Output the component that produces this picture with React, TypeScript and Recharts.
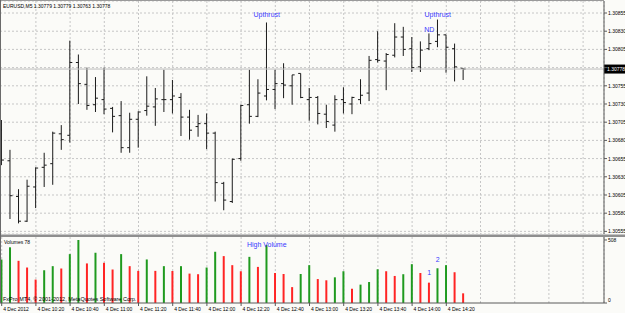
import {
  ComposedChart,
  Bar,
  Scatter,
  XAxis,
  YAxis,
  CartesianGrid,
  ReferenceLine,
  Cell,
} from "recharts"

// EURUSD M5, 4 Dec 2012
const times = [
  "10:00", "10:05", "10:10", "10:15", "10:20", "10:25", "10:30", "10:35", "10:40", "10:45",
  "10:50", "10:55", "11:00", "11:05", "11:10", "11:15", "11:20", "11:25", "11:30", "11:35",
  "11:40", "11:45", "11:50", "11:55", "12:00", "12:05", "12:10", "12:15", "12:20", "12:25",
  "12:30", "12:35", "12:40", "12:45", "12:50", "12:55", "13:00", "13:05", "13:10", "13:15",
  "13:20", "13:25", "13:30", "13:35", "13:40", "13:45", "13:50", "13:55", "14:00", "14:05",
  "14:10", "14:15", "14:20", "14:25", "14:30",
]

const opens = [
  1.30694, 1.30652, 1.30603, 1.30569, 1.30616, 1.30643, 1.30648, 1.30689, 1.30687, 1.30787,
  1.30757, 1.30729, 1.30736, 1.30724, 1.30714, 1.3067, 1.30709, 1.30721, 1.30726, 1.30736,
  1.30736, 1.30739, 1.30712, 1.30699, 1.30703, 1.3069, 1.30621, 1.30596, 1.30655, 1.30729,
  1.30713, 1.30741, 1.3075, 1.30758, 1.30755, 1.30772, 1.30736, 1.30739, 1.30716, 1.30701,
  1.30736, 1.3073, 1.30736, 1.30745, 1.30791, 1.30789, 1.30797, 1.30822, 1.30806, 1.30781,
  1.30806, 1.30816, 1.30825, 1.30806, 1.30779,
]
const highs = [
  1.30708, 1.30667, 1.30613, 1.30626, 1.30643, 1.30663, 1.30692, 1.30701, 1.30817, 1.30798,
  1.3078, 1.30767, 1.3078, 1.30726, 1.30734, 1.30718, 1.3072, 1.30768, 1.30752, 1.30777,
  1.30763, 1.30745, 1.30722, 1.30715, 1.30717, 1.30692, 1.30623, 1.30655, 1.30729, 1.30777,
  1.30764, 1.30842, 1.30777, 1.30786, 1.3077, 1.30772, 1.30752, 1.30741, 1.30729, 1.30742,
  1.30753, 1.3074, 1.30764, 1.30796, 1.3083, 1.308, 1.30841, 1.30836, 1.30822, 1.30816,
  1.30827, 1.30846, 1.30825, 1.30813, 1.30779,
]
const lows = [
  1.30646, 1.30572, 1.30566, 1.30568, 1.30587, 1.30616, 1.30619, 1.30667, 1.30677, 1.3073,
  1.30722, 1.30719, 1.30716, 1.30691, 1.30663, 1.30663, 1.3067, 1.30714, 1.307, 1.30719,
  1.30717, 1.30686, 1.30681, 1.30685, 1.30668, 1.30596, 1.30584, 1.30594, 1.30652, 1.30703,
  1.30712, 1.30735, 1.30723, 1.30738, 1.30729, 1.30738, 1.30707, 1.30702, 1.30697, 1.30692,
  1.30717, 1.30716, 1.3073, 1.30734, 1.30787, 1.30749, 1.30794, 1.30796, 1.30774, 1.30774,
  1.30804, 1.30808, 1.30773, 1.30761, 1.30763,
]
const closes = [
  1.30653, 1.30604, 1.30569, 1.30617, 1.30642, 1.30646, 1.3069, 1.30681, 1.30787, 1.30758,
  1.30728, 1.30738, 1.30723, 1.30713, 1.3067, 1.30709, 1.30719, 1.30727, 1.30737, 1.30736,
  1.30741, 1.30712, 1.30694, 1.30703, 1.3069, 1.30622, 1.30598, 1.30654, 1.30728, 1.30713,
  1.30745, 1.3075, 1.30758, 1.30756, 1.3077, 1.30739, 1.30739, 1.30717, 1.30706, 1.30736,
  1.30732, 1.30739, 1.30742, 1.3079, 1.3079, 1.30798, 1.30822, 1.30805, 1.3078, 1.30804,
  1.30813, 1.30825, 1.30808, 1.30781, 1.30778,
]
const volumes = [
  351, 449, 340, 286, 189, 264, 297, 278, 394, 508,
  319, 405, 324, 270, 394, 297, 259, 351, 259, 297,
  258, 297, 237, 232, 286, 413, 378, 305, 256, 372,
  291, 467, 242, 234, 128, 234, 305, 193, 183, 207,
  256, 115, 148, 169, 272, 256, 218, 232, 313, 242,
  164, 280, 305, 248, 78,
]

const priceTicks = [
  1.30555, 1.3058, 1.30605, 1.3063, 1.30655, 1.3068, 1.30705,
  1.3073, 1.30755, 1.3078, 1.30805, 1.3083, 1.30855,
]
const lastPrice = 1.30778
const volumeTicks = [0, 508]
const timeTickIdx = [0, 4, 8, 12, 16, 20, 24, 28, 32, 36, 40, 44, 48, 52]
const timeLabels = [
  "4 Dec 2012", "4 Dec 10:20", "4 Dec 10:40", "4 Dec 11:00", "4 Dec 11:20",
  "4 Dec 11:40", "4 Dec 12:00", "4 Dec 12:20", "4 Dec 12:40", "4 Dec 13:00",
  "4 Dec 13:20", "4 Dec 13:40", "4 Dec 14:00", "4 Dec 14:20",
]
// grid keeps going into the empty chart-shift area
const gridIdx = [4, 8, 12, 16, 20, 24, 28, 32, 36, 40, 44, 48, 52, 56, 60, 64, 68]

const priceNotes = [
  { i: 31, price: 1.30853, text: "Upthrust" },
  { i: 51, price: 1.30853, text: "Upthrust" },
  { i: 50, price: 1.30833, text: "ND" },
]
const volumeNotes = [
  { i: 31, vol: 471, text: "High Volume" },
  { i: 50, vol: 246, text: "1" },
  { i: 51, vol: 351, text: "2" },
]

const bars = times.map((t, i) => ({
  i,
  time: t,
  open: opens[i],
  high: highs[i],
  low: lows[i],
  close: closes[i],
  vol: volumes[i],
}))

const xDomain = [-0.199, 70.444]
const FONT = "Liberation Sans, Arial, sans-serif"
const NOTE_BLUE = "#3a3aff"
const AXIS = "#5a5a5a"

function OhlcShape(props: any) {
  const { x, y, width, height, payload } = props
  if (x == null || !payload) return null
  const top = height < 0 ? y + height : y
  const h = Math.abs(height)
  const span = payload.high - payload.low || 1
  const cx = x + width / 2
  const yOpen = top + ((payload.high - payload.open) / span) * h
  const yClose = top + ((payload.high - payload.close) / span) * h
  return (
    <g stroke="#1a1a1a" strokeWidth={1}>
      <line x1={cx} x2={cx} y1={top} y2={top + h} />
      <line x1={cx - 2.5} x2={cx} y1={yOpen} y2={yOpen} />
      <line x1={cx} x2={cx + 2.5} y1={yClose} y2={yClose} />
    </g>
  )
}

function NoteShape(props: any) {
  const { cx, cy, payload } = props
  return (
    <text
      x={cx}
      y={cy}
      textAnchor="middle"
      dominantBaseline="central"
      fontSize={7}
      fontFamily={FONT}
      fill={NOTE_BLUE}
    >
      {payload.text}
    </text>
  )
}

function PriceTag(props: any) {
  const vb = props.viewBox || {}
  const right = (vb.x || 0) + (vb.width || 0)
  const y = vb.y || 0
  return (
    <g>
      <rect x={right} y={y - 4.5} width={21} height={9} fill="#000" />
      <text
        x={right + 3}
        y={y}
        dominantBaseline="central"
        fontSize={5}
        fontFamily={FONT}
        fill="#fff"
      >
        {lastPrice.toFixed(5)}
      </text>
    </g>
  )
}

function PriceTick(props: any) {
  const { x, y, payload } = props
  const v = payload.value
  if (Math.abs(v - 1.3078) < 1e-7) return null
  return (
    <text x={x} y={y} dominantBaseline="central" fontSize={5} fontFamily={FONT} fill="#000">
      {v.toFixed(5)}
    </text>
  )
}

function VolTick(props: any) {
  const { x, y, payload } = props
  return (
    <text
      x={x}
      y={payload.value === 0 ? y - 3 : y}
      dominantBaseline="central"
      fontSize={5}
      fontFamily={FONT}
      fill="#000"
    >
      {payload.value}
    </text>
  )
}

function TimeTick(props: any) {
  const { x, y, payload } = props
  const k = timeTickIdx.indexOf(payload.value)
  if (k < 0) return null
  return (
    <g>
      <line x1={x} x2={x} y1={y} y2={y + 3} stroke={AXIS} />
      <text x={x + 1.5} y={y + 7.5} fontSize={5} fontFamily={FONT} fill="#000">
        {timeLabels[k]}
      </text>
    </g>
  )
}

export default function App() {
  return (
    <div
      style={{
        position: "absolute",
        left: 0,
        top: 0,
        width: 625,
        height: 313,
        background: "#fbfbf8",
        overflow: "hidden",
      }}
    >
      <div style={{ position: "absolute", left: 0, top: 0 }}>
        <ComposedChart
          width={625}
          height={235}
          data={bars}
          margin={{ top: 1, right: 0, bottom: 1, left: 0 }}
        >
          <CartesianGrid stroke="#c6c6c6" strokeDasharray="2 2" />
          <XAxis
            type="number"
            dataKey="i"
            domain={xDomain}
            ticks={gridIdx}
            allowDataOverflow
            hide
          />
          <YAxis
            orientation="right"
            type="number"
            width={21}
            domain={[1.305514, 1.308715]}
            ticks={priceTicks}
            interval={0}
            allowDataOverflow
            axisLine={{ stroke: AXIS }}
            tickLine={{ stroke: AXIS }}
            tickSize={3}
            tickMargin={1}
            tick={<PriceTick />}
          />
          <ReferenceLine y={lastPrice} stroke="#bdbdbd" label={<PriceTag />} />
          <Bar
            dataKey={(d: any) => [d.low, d.high]}
            barSize={6}
            shape={<OhlcShape />}
            isAnimationActive={false}
          />
          <Scatter
            data={priceNotes}
            dataKey="price"
            shape={<NoteShape />}
            isAnimationActive={false}
          />
        </ComposedChart>
      </div>

      <div
        style={{
          position: "absolute",
          left: 0,
          top: 234,
          width: 625,
          height: 3,
          background: "#8f8f8f",
          borderTop: "1px solid #c4c4c4",
          boxSizing: "border-box",
        }}
      />

      <div style={{ position: "absolute", left: 0, top: 237 }}>
        <ComposedChart
          width={625}
          height={76}
          data={bars}
          margin={{ top: 0, right: 0, bottom: 0, left: 0 }}
        >
          <CartesianGrid stroke="#c6c6c6" strokeDasharray="2 2" horizontal={false} />
          <XAxis
            type="number"
            dataKey="i"
            domain={xDomain}
            ticks={[...timeTickIdx, 56, 60, 64, 68]}
            allowDataOverflow
            height={10}
            axisLine={{ stroke: AXIS }}
            tickLine={false}
            tickSize={0}
            tickMargin={0}
            tick={<TimeTick />}
            interval={0}
          />
          <YAxis
            orientation="right"
            type="number"
            width={21}
            domain={[0, 532]}
            ticks={volumeTicks}
            interval={0}
            allowDataOverflow
            axisLine={{ stroke: AXIS }}
            tickLine={{ stroke: AXIS }}
            tickSize={3}
            tickMargin={1}
            tick={<VolTick />}
          />
          <Bar dataKey="vol" barSize={2} isAnimationActive={false}>
            {bars.map((b, i) => (
              <Cell
                key={b.time}
                fill={i === 0 || b.vol > volumes[i - 1] ? "#1f9a1f" : "#ff2424"}
              />
            ))}
          </Bar>
          <Scatter
            data={volumeNotes}
            dataKey="vol"
            shape={<NoteShape />}
            isAnimationActive={false}
          />
        </ComposedChart>
      </div>

      <div style={{ position: "absolute", left: 0, top: 0, width: 604, height: 1, background: "#9a9a9a" }} />
      <div style={{ position: "absolute", left: 0, top: 0, width: 1, height: 303, background: "#6a6a6a" }} />

      <svg
        width={625}
        height={313}
        style={{ position: "absolute", left: 0, top: 0, pointerEvents: "none" }}
      >
        <text x={3} y={8} fontSize={5} fontFamily={FONT} fill="#000">
          EURUSD,M5  1.30779 1.30779 1.30763 1.30778
        </text>
        <text x={4} y={243.5} fontSize={5} fontFamily={FONT} fill="#000">
          Volumes 78
        </text>
        <text x={3} y={301} fontSize={5.5} fontFamily={FONT} fill="#000">
          FxPro MT4, © 2001-2012, MetaQuotes Software Corp.
        </text>
      </svg>
    </div>
  )
}
